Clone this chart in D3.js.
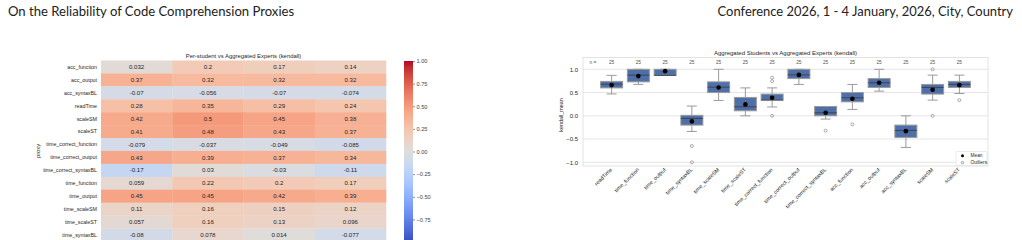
<!DOCTYPE html>
<html><head><meta charset="utf-8">
<script src="https://cdn.jsdelivr.net/npm/d3@7"></script>
<style>
body{margin:0;background:#fff;}
svg{display:block;font-family:"Liberation Sans",Arial,sans-serif;}
</style>
</head><body>
<svg id="c" width="1022" height="240"></svg>
<script>
// ---------- data ----------
const headerLeft = "On the Reliability of Code Comprehension Proxies";
const headerRight = "Conference 2026, 1 - 4 January, 2026, City, Country";

const heatTitle = "Per-student vs Aggregated Experts (kendall)";
const proxies = ["acc_function","acc_output","acc_syntaxBL","readTime","scaleSM","scaleST",
  "time_correct_function","time_correct_output","time_correct_syntaxBL","time_function",
  "time_output","time_scaleSM","time_scaleST","time_syntaxBL"];
const heatColumns = ["c1","c2","c3","c4"];
const heatValues = [
  [0.032, 0.2, 0.17, 0.14],
  [0.37, 0.32, 0.32, 0.32],
  [-0.07, -0.056, -0.07, -0.074],
  [0.28, 0.35, 0.29, 0.24],
  [0.42, 0.5, 0.45, 0.38],
  [0.41, 0.48, 0.43, 0.37],
  [-0.079, -0.037, -0.049, -0.085],
  [0.43, 0.39, 0.37, 0.34],
  [-0.17, 0.03, -0.03, -0.11],
  [0.059, 0.22, 0.2, 0.17],
  [0.45, 0.45, 0.42, 0.39],
  [0.11, 0.16, 0.15, 0.12],
  [0.057, 0.16, 0.13, 0.096],
  [-0.08, 0.078, 0.014, -0.077]
];
const colorbarTicks = [1, 0.75, 0.5, 0.25, 0, -0.25, -0.5, -0.75];

const boxTitle = "Aggregated Students vs Aggregated Experts (kendall)";
const boxCategories = ["readTime","time_function","time_output","time_syntaxBL","time_scaleSM",
  "time_scaleST","time_correct_function","time_correct_output","time_correct_syntaxBL",
  "acc_function","acc_output","acc_syntaxBL","scaleSM","scaleST"];
const boxN =        [25,25,25,25,25,25,25,25,25,25,25,25,25,25];
const whiskerHigh = [0.87, 1.0, 1.0, 0.21, 1.0, 0.60, 0.60, 1.0, 0.20, 0.675, 1.0, 0.0, 0.875, 0.875];
const q3 =          [0.74, 1.0, 1.0, 0.01, 0.73, 0.395, 0.467, 1.0, 0.20, 0.50, 0.80, -0.2, 0.675, 0.74];
const median =      [0.68, 0.875, 0.87, -0.057, 0.617, 0.194, 0.34, 0.88, 0.065, 0.387, 0.71, -0.315, 0.61, 0.675];
const q1 =          [0.60, 0.73, 0.87, -0.2, 0.50, 0.108, 0.337, 0.80, 0.0, 0.30, 0.61, -0.465, 0.467, 0.61];
const whiskerLow =  [0.47, 0.675, 0.87, -0.336, 0.33, 0.0, 0.19, 0.675, -0.07, 0.137, 0.53, -0.68, 0.337, 0.48];
const means =       [0.66, 0.854, 0.96, -0.12, 0.61, 0.245, 0.387, 0.88, 0.065, 0.366, 0.71, -0.33, 0.56, 0.66];
const outliers = [[], [], [], [-0.65, -1.0], [], [], [0.82, 0.745, 0.0], [], [-0.32], [-0.185], [], [], [1.0, 0.0], [0.337]];
const boxYTicks = [1.0, 0.5, 0.0, -0.5, -1.0];
const legendItems = ["Mean", "Outliers"];

// coolwarm colormap stops
const coolwarm = [[59,76,192],[68,90,204],[77,104,215],[87,117,225],[98,130,234],[108,142,241],
 [119,154,247],[130,165,251],[141,176,254],[152,185,255],[163,194,255],[174,201,253],[184,208,249],
 [194,213,244],[204,217,238],[213,219,230],[221,221,221],[229,216,209],[236,211,197],[241,204,185],
 [245,196,173],[247,187,160],[247,177,148],[247,166,135],[244,154,123],[241,141,111],[236,127,99],
 [229,112,88],[222,96,77],[213,80,66],[203,62,56],[192,40,47],[180,4,38]];

// ---------- drawing ----------
const svg = d3.select("#c");
const hdrFont = "Lato, 'Open Sans', sans-serif";
svg.append("text").attr("x", 8).attr("y", 16).attr("font-family", hdrFont)
  .attr("font-size", 13.1).attr("fill", "#222").text(headerLeft);
svg.append("text").attr("x", 1013).attr("y", 16).attr("font-family", hdrFont)
  .attr("font-size", 12.95).attr("fill", "#222").attr("text-anchor", "end").text(headerRight);

const cmap = d3.scaleLinear()
  .domain(coolwarm.map((c, i) => -1 + 2 * i / (coolwarm.length - 1)))
  .range(coolwarm.map(c => d3.rgb(c[0], c[1], c[2]).toString()))
  .interpolate(d3.interpolateRgb).clamp(true);

// heatmap
const hx = d3.scaleBand().domain(heatColumns).range([101, 386]);
const hy = d3.scaleBand().domain(proxies).range([60.5, 241.4]);
const hg = svg.append("g");
hg.append("text").attr("x", (101 + 386) / 2).attr("y", 58.3).attr("text-anchor", "middle")
  .attr("font-size", 5.9).attr("fill", "#262626").text(heatTitle);
const fmt = d3.format(".2~g");
proxies.forEach((p, i) => {
  heatColumns.forEach((c, j) => {
    const v = heatValues[i][j];
    hg.append("rect").attr("x", hx(c)).attr("y", hy(p)).attr("width", hx.bandwidth() + 0.3)
      .attr("height", hy.bandwidth() + 0.3).attr("fill", cmap(v));
    hg.append("text").attr("x", hx(c) + hx.bandwidth() / 2).attr("y", hy(p) + hy.bandwidth() / 2)
      .attr("dy", "0.35em").attr("text-anchor", "middle").attr("font-size", 6.1)
      .attr("fill", "#262626").text(fmt(v).replace("\u2212", "-"));
  });
  hg.append("text").attr("x", 97).attr("y", hy(p) + hy.bandwidth() / 2).attr("dy", "0.35em")
    .attr("text-anchor", "end").attr("font-size", 5.3).attr("fill", "#262626").text(p);
});
hg.append("text").attr("transform", "translate(39.5,151) rotate(-90)").attr("text-anchor", "middle")
  .attr("font-size", 5.8).attr("fill", "#262626").text("proxy");

// colorbar
const cbY = d3.scaleLinear().domain([-1, 1]).range([242, 61]);
const defs = svg.append("defs");
const grad = defs.append("linearGradient").attr("id", "cw").attr("x1", 0).attr("y1", 1).attr("x2", 0).attr("y2", 0);
coolwarm.forEach((c, i) => grad.append("stop").attr("offset", i / (coolwarm.length - 1))
  .attr("stop-color", d3.rgb(c[0], c[1], c[2]).toString()));
svg.append("rect").attr("x", 404).attr("y", 61).attr("width", 9).attr("height", 181).attr("fill", "url(#cw)");
const cbAxis = d3.axisRight(cbY).tickValues(colorbarTicks).tickFormat(d3.format(".2f")).tickSize(2).tickPadding(1.5);
const cbg = svg.append("g").attr("transform", "translate(413,0)").call(cbAxis);
cbg.select(".domain").remove();
cbg.selectAll("line").attr("stroke", "#444").attr("stroke-width", 0.6);
cbg.selectAll("text").attr("font-size", 5.6).attr("fill", "#444").attr("font-family", "Liberation Sans, Arial, sans-serif");

// boxplot
const bx = d3.scaleLinear().domain([-1.07, 14.07]).range([583, 988]);
const by = d3.scaleLinear().domain([-1.0, 1.0]).range([162.3, 69.3]);
const bTop = 57.5, bBot = 166;
const bg = svg.append("g");
bg.append("text").attr("x", (583 + 988) / 2).attr("y", 55.3).attr("text-anchor", "middle")
  .attr("font-size", 6.0).attr("fill", "#262626").text(boxTitle);
// grid
boxYTicks.forEach(t => {
  bg.append("line").attr("x1", 583).attr("x2", 988).attr("y1", by(t)).attr("y2", by(t))
    .attr("stroke", "#e5e5e5").attr("stroke-width", 1);
});
bg.append("rect").attr("x", 583).attr("y", bTop).attr("width", 988 - 583).attr("height", bBot - bTop)
  .attr("fill", "none").attr("stroke", "#dcdcdc").attr("stroke-width", 0.8);
const yAx = d3.axisLeft(by).tickValues(boxYTicks).tickFormat(d3.format(".1f")).tickSize(0).tickPadding(5);
const yg = bg.append("g").attr("transform", "translate(583,0)").call(yAx);
yg.select(".domain").remove();
yg.selectAll("text").attr("font-size", 6.0).attr("fill", "#262626").attr("font-family", "Liberation Sans, Arial, sans-serif");
bg.append("text").attr("transform", "translate(563,115) rotate(-90)").attr("text-anchor", "middle")
  .attr("font-size", 5.4).attr("fill", "#262626").text("kendall_mean");

// n row
bg.append("text").attr("x", bx(-0.7)).attr("y", 62).attr("dy", "0.35em").attr("text-anchor", "middle")
  .attr("font-size", 4.8).attr("fill", "#555").text("n =");

const bw = 22, cw = 10;
boxCategories.forEach((c, i) => {
  const x = bx(i);
  bg.append("text").attr("x", x).attr("y", 62).attr("dy", "0.35em").attr("text-anchor", "middle")
    .attr("font-size", 4.8).attr("fill", "#555").text(boxN[i]);
  // whiskers
  bg.append("line").attr("x1", x).attr("x2", x).attr("y1", by(q3[i])).attr("y2", by(whiskerHigh[i]))
    .attr("stroke", "#9a9a9a").attr("stroke-width", 1);
  bg.append("line").attr("x1", x).attr("x2", x).attr("y1", by(q1[i])).attr("y2", by(whiskerLow[i]))
    .attr("stroke", "#9a9a9a").attr("stroke-width", 1);
  [whiskerHigh[i], whiskerLow[i]].forEach(w => {
    bg.append("line").attr("x1", x - cw / 2).attr("x2", x + cw / 2).attr("y1", by(w)).attr("y2", by(w))
      .attr("stroke", "#9a9a9a").attr("stroke-width", 1);
  });
  // box
  bg.append("rect").attr("x", x - bw / 2).attr("y", by(q3[i])).attr("width", bw)
    .attr("height", Math.max(0.8, by(q1[i]) - by(q3[i])))
    .attr("fill", "#4f6fa8").attr("stroke", "#9a9a9a").attr("stroke-width", 1);
  bg.append("line").attr("x1", x - bw / 2).attr("x2", x + bw / 2).attr("y1", by(median[i])).attr("y2", by(median[i]))
    .attr("stroke", "#3a3f4a").attr("stroke-width", 0.9);
  // outliers
  outliers[i].forEach(o => {
    bg.append("circle").attr("cx", x).attr("cy", by(o)).attr("r", 1.5)
      .attr("fill", "none").attr("stroke", "#888").attr("stroke-width", 0.7);
  });
  // mean
  bg.append("circle").attr("cx", x).attr("cy", by(means[i])).attr("r", 2.3).attr("fill", "#000");
  // x label
  bg.append("text").attr("transform", `translate(${x + 1},${170}) rotate(-45)`)
    .attr("text-anchor", "end").attr("font-size", 5.4).attr("fill", "#262626").text(c);
});

// legend
const lg = bg.append("g");
lg.append("rect").attr("x", 956).attr("y", 151.5).attr("width", 31).attr("height", 14)
  .attr("fill", "#fff").attr("stroke", "#dcdcdc").attr("stroke-width", 0.6).attr("rx", 1);
lg.append("circle").attr("cx", 962.5).attr("cy", 155.8).attr("r", 1.5).attr("fill", "#000");
lg.append("circle").attr("cx", 962.5).attr("cy", 162.6).attr("r", 1.2).attr("fill", "none").attr("stroke", "#666").attr("stroke-width", 0.6);
legendItems.forEach((t, k) => {
  lg.append("text").attr("x", 970.5).attr("y", 155.8 + k * 6.8).attr("dy", "0.35em")
    .attr("font-size", 4.8).attr("fill", "#262626").text(t);
});
</script>
</body></html>
